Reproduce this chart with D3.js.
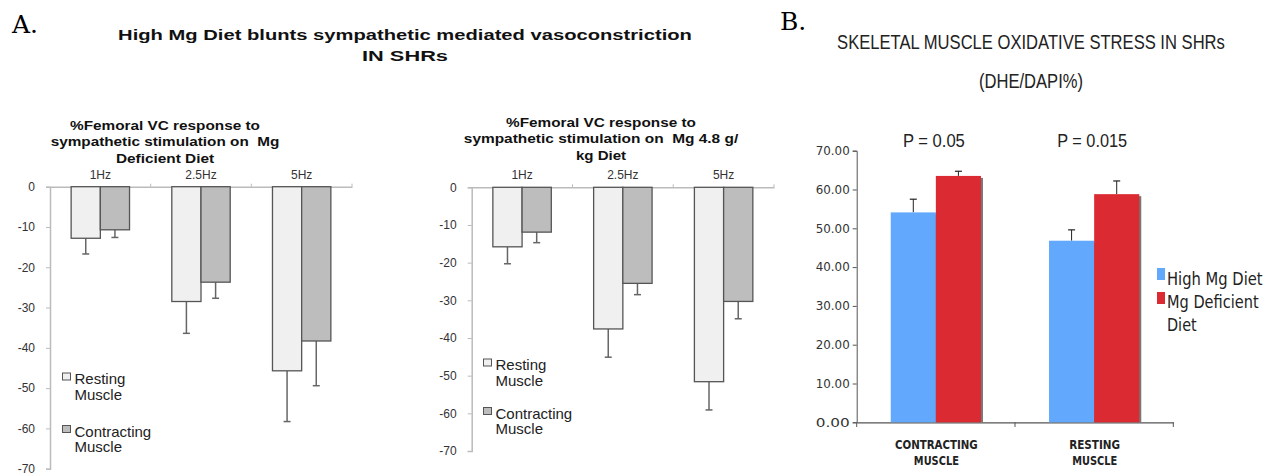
<!DOCTYPE html>
<html>
<head>
<meta charset="utf-8">
<script src="https://cdn.jsdelivr.net/npm/d3@7.9.0/dist/d3.min.js"></script>
<style>
  body { margin: 0; background: #fff; }
  svg { display: block; }
  text { white-space: pre; }
</style>
</head>
<body>
<svg id="chart" width="1273" height="475"></svg>
<script>
// ---- data ----
const freqs = ['1Hz', '2.5Hz', '5Hz'];
const muscleSeries = ['Resting Muscle', 'Contracting Muscle'];

// Mg deficient diet (% change), mean and lower error end
const defResting = [-12.8, -28.5, -45.7];
const defRestingErr = [-16.7, -36.4, -58.3];
const defContracting = [-10.7, -23.7, -38.3];
const defContractingErr = [-12.6, -27.7, -49.4];

// Mg 4.8 g/kg diet
const highResting = [-15.8, -37.6, -51.6];
const highRestingErr = [-20.3, -45.1, -59.1];
const highContracting = [-11.9, -25.5, -30.3];
const highContractingErr = [-14.7, -28.5, -34.9];

const vcTicks = [0, -10, -20, -30, -40, -50, -60, -70];

// panel B: DHE/DAPI %
const muscleCats = ['CONTRACTING MUSCLE', 'RESTING MUSCLE'];
const dietSeries = ['High Mg Diet', 'Mg Deficient Diet'];
const highMg = [54.1, 46.8];
const highMgErr = [57.5, 49.6];
const mgDef = [63.5, 58.8];
const mgDefErr = [64.7, 62.2];
const pValues = ['P = 0.05', 'P = 0.015'];
const dheTicks = [0, 10, 20, 30, 40, 50, 60, 70];

const svg = d3.select('#chart');
const arial = 'Liberation Sans, Arial, sans-serif';
const verdana = 'DejaVu Sans, sans-serif';

// text squeezed/stretched sideways to a given width (the source image is not 1:1)
function wideText(parent, x, y, str, width, style) {
  const g = parent.append('g').attr('transform', `translate(${x},${y})`);
  const t = g.append('text').attr('text-anchor', style.anchor || 'middle')
    .attr('font-family', style.family).attr('font-size', style.size)
    .attr('font-weight', style.weight || 'normal').attr('fill', style.fill || '#222')
    .text(str);
  const w = t.node().getBBox().width;
  if (w > 0) g.attr('transform', `translate(${x},${y}) scale(${width / w},1)`);
  return t;
}

// ---- Panel A ----
svg.append('text').attr('x', 12).attr('y', 33)
  .attr('font-family', 'DejaVu Serif, serif').attr('font-size', 25).text('A.');

const titleStyle = { family: arial, size: 15.5, weight: 'bold', fill: '#111' };
wideText(svg, 405, 40, 'High Mg Diet blunts sympathetic mediated vasoconstriction', 574, titleStyle);
wideText(svg, 405, 61, 'IN SHRs', 86, titleStyle);

function vcChart(opts) {
  const { x0, x1, yTop, yBottom, titleX, titleLines, titleWidths, titleY, resting, restingErr,
    contracting, contractingErr, legendX, legendY, legendGap } = opts;
  const g = svg.append('g');

  const x = d3.scaleBand().domain(freqs).range([x0, x1]);
  const xs = d3.scaleBand().domain(muscleSeries)
    .range([x.bandwidth() * 0.21, x.bandwidth() * 0.79]);
  const y = d3.scaleLinear().domain([0, -70]).range([yTop, yBottom]);

  // title
  titleLines.forEach((l, i) => wideText(g, titleX, titleY + i * 16.5, l, titleWidths[i],
    { family: arial, size: 13, weight: 'bold', fill: '#111' }));

  // y axis
  const ya = g.append('g').attr('transform', `translate(${x0},0)`)
    .call(d3.axisLeft(y).tickValues(vcTicks).tickSize(4).tickPadding(11).tickFormat(d => String(d)));
  ya.select('.domain').attr('stroke', '#bbb').attr('stroke-width', 1.5);
  ya.selectAll('.tick line').attr('stroke', '#bbb');
  ya.selectAll('.tick text').attr('font-family', arial).attr('font-size', 12).attr('fill', '#333');

  // top category axis
  const xa = g.append('g').attr('transform', `translate(0,${y(0)})`)
    .call(d3.axisTop(x).tickSize(0).tickPadding(8));
  xa.select('.domain').attr('stroke', '#bbb').attr('stroke-width', 1.5);
  xa.selectAll('.tick text').attr('font-family', arial).attr('font-size', 12).attr('fill', '#333');
  g.selectAll('.divtick').data(freqs).join('line')
    .attr('x1', (d, i) => x0 + x.step() * (i + 1)).attr('x2', (d, i) => x0 + x.step() * (i + 1))
    .attr('y1', y(0)).attr('y2', y(0) - 3).attr('stroke', '#bbb');

  const rows = freqs.flatMap((f, i) => [
    { f, s: muscleSeries[0], v: resting[i], e: restingErr[i], fill: '#f0f0f0' },
    { f, s: muscleSeries[1], v: contracting[i], e: contractingErr[i], fill: '#bdbdbd' }
  ]);

  // error bars (one-sided, downward)
  const cx = d => x(d.f) + xs(d.s) + xs.bandwidth() / 2;
  g.selectAll('.err').data(rows).join('line')
    .attr('x1', cx).attr('x2', cx).attr('y1', d => y(d.v)).attr('y2', d => y(d.e))
    .attr('stroke', '#666').attr('stroke-width', 1.5);
  g.selectAll('.cap').data(rows).join('line')
    .attr('x1', d => cx(d) - 3.5).attr('x2', d => cx(d) + 3.5).attr('y1', d => y(d.e)).attr('y2', d => y(d.e))
    .attr('stroke', '#666').attr('stroke-width', 1.5);

  g.selectAll('.bar').data(rows).join('rect')
    .attr('x', d => x(d.f) + xs(d.s)).attr('width', xs.bandwidth())
    .attr('y', y(0)).attr('height', d => y(d.v) - y(0))
    .attr('fill', d => d.fill).attr('stroke', '#555').attr('stroke-width', 1.3);

  // legend
  const lg = g.append('g').attr('font-family', arial).attr('font-size', 15).attr('fill', '#222');
  [['#f0f0f0', 'Resting', 'Muscle'], ['#bdbdbd', 'Contracting', 'Muscle']].forEach((it, i) => {
    const ly = legendY + i * legendGap;
    lg.append('rect').attr('x', legendX).attr('y', ly - 11).attr('width', 8).attr('height', 7)
      .attr('fill', it[0]).attr('stroke', '#555');
    lg.append('text').attr('x', legendX + 12).attr('y', ly).text(it[1]);
    lg.append('text').attr('x', legendX + 12).attr('y', ly + 15.5).text(it[2]);
  });
}

vcChart({
  x0: 50, x1: 352, yTop: 186.7, yBottom: 468.7,
  titleX: 165, titleY: 129.5,
  titleLines: ['%Femoral VC response to', 'sympathetic stimulation on  Mg', 'Deficient Diet'],
  titleWidths: [190, 229, 99],
  resting: defResting, restingErr: defRestingErr,
  contracting: defContracting, contractingErr: defContractingErr,
  legendX: 62.5, legendY: 384, legendGap: 52.5
});

vcChart({
  x0: 471.7, x1: 774, yTop: 187.3, yBottom: 451,
  titleX: 601, titleY: 126.7,
  titleLines: ['%Femoral VC response to', 'sympathetic stimulation on  Mg 4.8 g/', 'kg Diet'],
  titleWidths: [190, 275, 51],
  resting: highResting, restingErr: highRestingErr,
  contracting: highContracting, contractingErr: highContractingErr,
  legendX: 483.5, legendY: 370, legendGap: 48.5
});

// ---- Panel B ----
svg.append('text').attr('x', 780).attr('y', 30)
  .attr('font-family', 'DejaVu Serif, serif').attr('font-size', 25).text('B.');

const narrowStyle = { family: arial, size: 20.5, fill: '#222' };
wideText(svg, 1031, 49, 'SKELETAL MUSCLE OXIDATIVE STRESS IN SHRs', 388, narrowStyle);
wideText(svg, 1031, 88, '(DHE/DAPI%)', 104, { family: arial, size: 19.5, fill: '#222' });

const bx = d3.scaleBand().domain(muscleCats).range([856.7, 1173.3]);
const bs = d3.scaleBand().domain(dietSeries)
  .range([bx.bandwidth() * 0.215, bx.bandwidth() * 0.785]);
const by = d3.scaleLinear().domain([0, 70]).range([422.3, 150.7]);

const bya = svg.append('g').attr('transform', 'translate(856.7,0)')
  .call(d3.axisLeft(by).tickValues(dheTicks).tickSize(4).tickPadding(3).tickFormat(d3.format('.2f')));
bya.select('.domain').attr('stroke', '#555');
bya.selectAll('.tick line').attr('stroke', '#555');
bya.selectAll('.tick text').attr('font-family', verdana).attr('font-size', 12).attr('fill', '#333')
  .attr('textLength', 34).attr('lengthAdjust', 'spacingAndGlyphs');

const bxa = svg.append('g').attr('transform', 'translate(0,422.3)')
  .call(d3.axisBottom(bx).tickSize(0).tickFormat(''));
bxa.select('.domain').attr('stroke', '#555').attr('stroke-width', 1.3);
svg.selectAll('.bdiv').data([0, 1, 2]).join('line')
  .attr('x1', d => 856.7 + bx.step() * d).attr('x2', d => 856.7 + bx.step() * d)
  .attr('y1', 422.3).attr('y2', 427).attr('stroke', '#555');

const catWidths = { CONTRACTING: 83, RESTING: 51, MUSCLE: 45 };
muscleCats.forEach(c => {
  c.split(' ').forEach((w, i) => wideText(svg, bx(c) + bx.bandwidth() / 2 + 0.5, 449 + i * 16, w,
    catWidths[w], { family: verdana, size: 13, weight: 'bold', fill: '#222' }));
});

const bRows = muscleCats.flatMap((c, i) => [
  { c, s: dietSeries[0], v: highMg[i], e: highMgErr[i], fill: '#62a8fc' },
  { c, s: dietSeries[1], v: mgDef[i], e: mgDefErr[i], fill: '#dc2a33' }
]);
const bcx = d => bx(d.c) + bs(d.s) + bs.bandwidth() / 2;

svg.selectAll('.berr').data(bRows).join('line')
  .attr('x1', bcx).attr('x2', bcx).attr('y1', d => by(d.v)).attr('y2', d => by(d.e))
  .attr('stroke', '#222').attr('stroke-width', 1);
svg.selectAll('.bcap').data(bRows).join('line')
  .attr('x1', d => bcx(d) - 3.5).attr('x2', d => bcx(d) + 3.5).attr('y1', d => by(d.e)).attr('y2', d => by(d.e))
  .attr('stroke', '#222').attr('stroke-width', 1.2);

svg.selectAll('.bshadow').data(bRows).join('rect')
  .attr('x', d => bx(d.c) + bs(d.s) + 2).attr('width', bs.bandwidth())
  .attr('y', d => by(d.v) + 2).attr('height', d => by(0) - by(d.v) - 2)
  .attr('fill', '#777');
svg.selectAll('.bbar').data(bRows).join('rect')
  .attr('x', d => bx(d.c) + bs(d.s)).attr('width', bs.bandwidth())
  .attr('y', d => by(d.v)).attr('height', d => by(0) - by(d.v))
  .attr('fill', d => d.fill);

const pWidths = [62, 70];
pValues.forEach((p, i) => wideText(svg, bx(muscleCats[i]) + bx.bandwidth() / 2 - 2, 147, p, pWidths[i],
  { family: arial, size: 18, fill: '#222' }));

// legend B
const legStyle = { family: verdana, size: 17, fill: '#222', anchor: 'start' };
svg.append('rect').attr('x', 1157).attr('y', 268).attr('width', 8).attr('height', 12).attr('fill', '#62a8fc');
wideText(svg, 1167, 285, 'High Mg Diet', 96, legStyle);
svg.append('rect').attr('x', 1157).attr('y', 292).attr('width', 8).attr('height', 12).attr('fill', '#dc2a33');
wideText(svg, 1167, 308, 'Mg Deficient', 92, legStyle);
wideText(svg, 1167, 331, 'Diet', 30, legStyle);
</script>
</body>
</html>
